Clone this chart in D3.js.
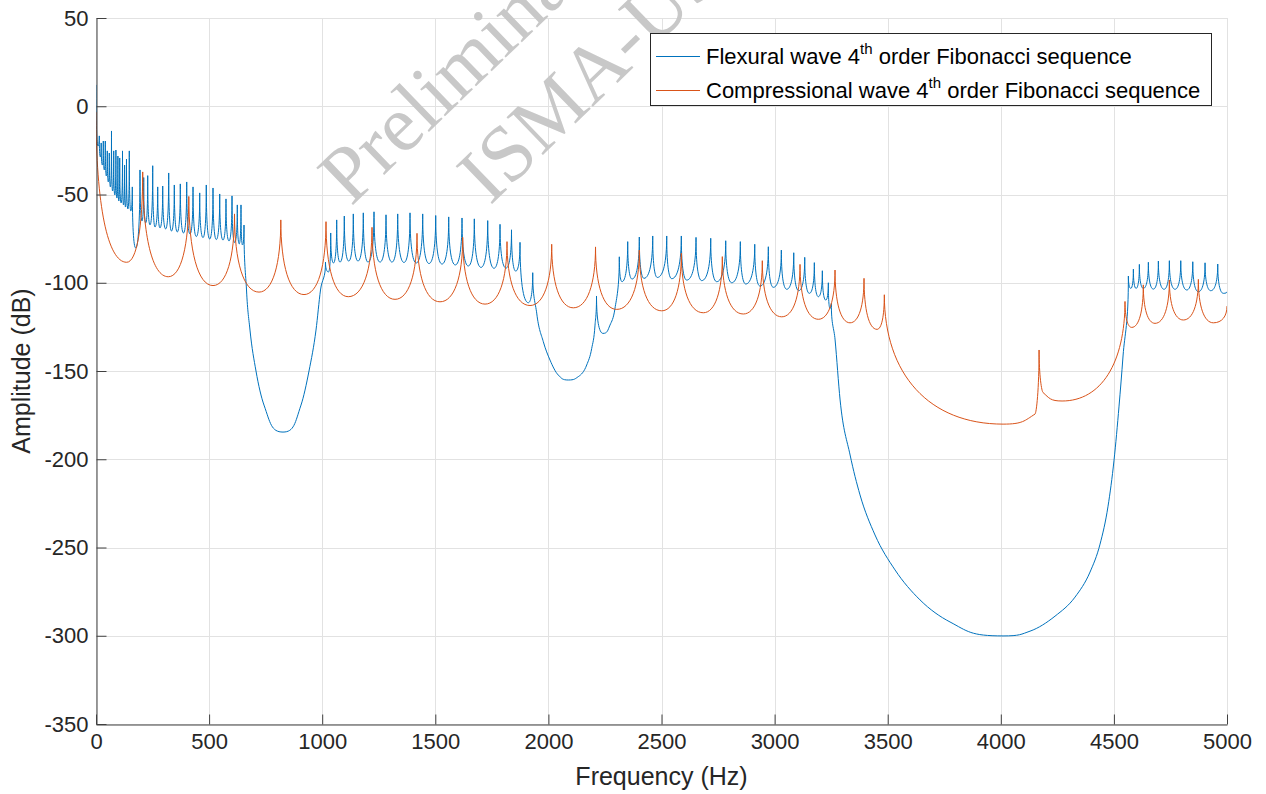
<!DOCTYPE html>
<html><head><meta charset="utf-8">
<script src="https://cdn.jsdelivr.net/npm/d3@7"></script>
<style>body{margin:0;background:#fff;}svg{display:block;}</style>
</head><body>
<svg id="chart" width="1266" height="794"></svg>
<script>
// ---------- data ----------
const xTicks = [0, 500, 1000, 1500, 2000, 2500, 3000, 3500, 4000, 4500, 5000];
const yTicks = [-350, -300, -250, -200, -150, -100, -50, 0, 50];
const xLabel = "Frequency (Hz)";
const yLabel = "Amplitude (dB)";
const legendMain = ["Flexural wave 4", "Compressional wave 4"];
const legendSup = "th";
const legendTail = " order Fibonacci sequence";
const watermarkLines = ["Preliminary", "ISMA-USD"];

// Flexural wave (blue): frequency (Hz) and amplitude (dB) at peaks, troughs and bends
const flexHz = [0,8.8,14.6,19.0,23.0,27.9,32.3,36.7,41.1,45.5,49.9,54.4,58.8,63.7,68.5,73.4,78.3,83.1,88.0,92.4,96.8,100.8,104.8,111.0,117.2,121.6,126.4,130.4,134.8,141.0,147.2,153.9,160.5,175.5,
194.5,203.4,210.9,219.7,228.6,238.7,250.7,260.8,272.8,282.9,294.9,308.1,321.4,333.8,346.2,359.4,372.7,386.8,401.0,415.6,428.9,443.4,458.5,473.0,487.6,502.7,517.3,531.8,546.9,561.5,574.7,588.0,601.3,613.2,624.7,633.1,641.0,647.7,654.3,
665.4,680.8,707.3,742.7,826.7,906.3,941.7,972.6,992.5,
1014.6,1027.9,1037.6,1050.0,1064.1,1078.7,1097.7,1117.2,1137.5,1158.3,1181.7,1202.5,1229.0,1255.6,1282.1,1308.6,1333.8,1361.7,1388.2,1416.1,1444.3,1472.2,1501.8,1529.7,1559.3,1588.5,1618.1,1646.0,1672.5,1702.1,1731.7,1759.6,1786.1,1812.6,1836.9,1855.5,1874.5,1911.2,1930.7,
1948.3,1977.5,2007.1,2043.8,2088.0,2132.2,2169.4,2191.5,2206.1,2212.7,
2241.4,2272.3,2294.4,2313.5,2325.4,2350.6,2369.7,2401.9,2422.6,2461.2,2481.5,2523.1,2545.2,2587.6,2611.5,2652.6,2677.8,2717.6,2744.1,2783.9,2810.4,2848.5,2872.4,2912.2,2935.6,2972.3,2994.4,3029.8,3053.6,3084.6,3106.7,3133.2,3153.6,3175.7,3193.4,3211.1,3226.1,3237.6,3245.1,3250.9,
3267.5,3289.6,3333.8,3377.6,3443.9,3532.4,3642.9,3775.5,4010.0,4129.2,4239.7,4328.1,4394.5,4438.7,4474.1,4500.6,4522.7,4540.4,
4564.0,4574.6,4586.1,4598.0,4612.6,4630.3,4652.4,4674.5,4696.6,4721.8,4745.2,4770.4,4795.6,4822.1,4848.7,4873.4,4903.0,4928.2,4959.1,4983.9,5000];
const flexDb = [12.1,-22.5,-16.8,-28.7,-20.8,-33.3,-19.7,-36.1,-19.7,-39.5,-25.3,-42.9,-26.5,-45.7,-14.0,-48.0,-25.3,-50.3,-24.8,-52.0,-28.2,-53.7,-29.3,-54.8,-25.3,-55.9,-33.3,-57.1,-29.9,-58.2,-25.3,-59.3,-45.7,-80.3,
-36.1,-65.0,-40.4,-66.1,-39.3,-67.2,-33.7,-68.4,-45.7,-68.9,-45.2,-69.5,-37.8,-70.7,-44.6,-71.2,-44.0,-71.8,-42.9,-72.3,-45.7,-73.8,-49.1,-74.4,-44.6,-75.2,-46.3,-75.5,-49.7,-75.8,-52.5,-76.3,-50.8,-77.2,-55.9,-78.0,-55.9,-78.6,-67.3,
-104.1,-126.8,-150.0,-169.3,-184.6,-169.3,-150.0,-126.8,-104.1,
-88.3,-93.9,-71.8,-88.8,-64.4,-88.3,-62.2,-87.7,-61.0,-87.7,-60.4,-88.3,-59.8,-88.3,-61.5,-88.3,-61.0,-88.5,-60.4,-88.8,-61.0,-89.1,-61.9,-89.4,-62.7,-89.9,-63.3,-90.5,-63.8,-91.3,-64.8,-91.8,-66.9,-91.7,-70.0,-93.4,-77.1,-111.3,-94.3,
-117.2,-133.4,-143.8,-152.3,-155.1,-153.2,-146.6,-137.2,-124.0,-107.5,
-128.7,-124.0,-114.5,-85.3,-99.4,-76.7,-97.9,-74.1,-97.5,-73.5,-97.0,-73.5,-97.7,-73.5,-98.5,-74.3,-98.8,-74.8,-99.4,-76.2,-100.0,-76.7,-100.7,-78.2,-101.9,-79.6,-102.6,-81.5,-103.7,-83.0,-104.5,-85.6,-106.0,-88.6,-107.9,-93.2,-109.8,-100.0,-114.5,-111.7,
-132.4,-166.4,-197.6,-220.2,-242.9,-262.7,-279.7,-292.2,-300.1,-297.4,-288.9,-278.1,-263.9,-248.1,-226.6,-200.5,-169.9,-141.5,
-96.2,-103.2,-92.3,-103.2,-89.6,-103.2,-88.4,-103.6,-87.7,-103.7,-87.5,-103.7,-87.5,-104.1,-88.1,-105.1,-88.7,-104.5,-89.4,-106.0,-105.1];

// Compressional wave (orange)
const compHz = [0,135.7,206.5,319.6,410.3,517.3,612.3,720.6,817.0,919.6,1016.8,1115.4,1220.2,1321.9,1419.1,1520.8,1621.2,1719.8,1817.0,1918.7,2014.6,2110.2,2208.3,2302.0,2401.9,2501.0,2587.6,2684.9,2768.9,2861.7,2945.7,3031.5,3112.4,3193.4,3267.1,3333.4,3395.3,3452.8,3485.1,4010.1,4151.3,4169.2,4186.7,4270.9,4549.1,4578.8,4630.0,4681.8,4745.2,4807.0,4873.4,4939.7,5000];
const compDb = [-3.3,-88.4,-37.2,-96.6,-51.1,-101.6,-61.0,-105.3,-64.4,-106.7,-65.4,-107.9,-68.6,-109.4,-72.0,-110.8,-74.3,-112.1,-76.7,-112.9,-78.2,-114.2,-79.7,-115.1,-81.5,-115.9,-83.3,-117.0,-85.2,-117.7,-87.5,-119.3,-89.6,-120.7,-92.8,-122.7,-97.5,-126.4,-106.8,-180.1,-174.4,-138.1,-162.2,-167.0,-110.6,-125.3,-101.2,-123.0,-98.4,-121.1,-98.1,-122.7,-113.2];

const colors = ["#0072BD", "#D95319"];

// ---------- layout ----------
const W = 1266, H = 794;
const m = {left: 96, top: 18, right: 1227, bottom: 724};
const svg = d3.select("#chart");
const x = d3.scaleLinear().domain([0, 5000]).range([m.left, m.right]);
const y = d3.scaleLinear().domain([-350, 50]).range([m.bottom, m.top]);
const FONT = "'Liberation Sans', Arial, Helvetica, sans-serif";
const TXT = "#262626";

// resonance-style curve: sharp cusps at peaks, rounded troughs, monotone between
function CuspCurve(ctx){ this._ctx = ctx; }
CuspCurve.prototype = {
  areaStart(){}, areaEnd(){},
  lineStart(){ this._p = []; },
  point(px, py){ this._p.push([+px, +py]); },
  lineEnd(){
    const p = this._p, n = p.length, c = this._ctx;
    if (!n) return;
    c.moveTo(p[0][0], p[0][1]);
    if (n === 1) return;
    const type = p.map((q, i) => {
      const a = i > 0 ? p[i-1][1] : null, b = i < n-1 ? p[i+1][1] : null;
      const hi = v => v === null || q[1] < v;
      const lo = v => v === null || q[1] > v;
      if (hi(a) && hi(b)) return "peak";
      if (lo(a) && lo(b)) return "trough";
      return "mono";
    });
    const slope = p.map((q, i) => {
      if (type[i] !== "mono") return 0;
      const h0 = q[0]-p[i-1][0], h1 = p[i+1][0]-q[0];
      const s0 = (q[1]-p[i-1][1])/h0, s1 = (p[i+1][1]-q[1])/h1;
      const pp = (s0*h1 + s1*h0)/(h0 + h1);
      return (Math.sign(s0) + Math.sign(s1)) * Math.min(Math.abs(s0), Math.abs(s1), 0.5*Math.abs(pp));
    });
    const K = 0.62;
    for (let i = 0; i < n-1; i++){
      const a = p[i], b = p[i+1], dx = b[0]-a[0], dy = b[1]-a[1];
      let c1, c2;
      if (type[i] === "peak") c1 = [a[0], a[1] + K*dy];
      else if (type[i] === "trough") c1 = [a[0] + K*dx, a[1]];
      else c1 = [a[0] + dx/3, a[1] + slope[i]*dx/3];
      if (type[i+1] === "peak") c2 = [b[0], b[1] - K*dy];
      else if (type[i+1] === "trough") c2 = [b[0] - K*dx, b[1]];
      else c2 = [b[0] - dx/3, b[1] - slope[i+1]*dx/3];
      c.bezierCurveTo(c1[0], c1[1], c2[0], c2[1], b[0], b[1]);
    }
  }
};
const curveCusp = ctx => new CuspCurve(ctx);

svg.append("rect").attr("width", W).attr("height", H).attr("fill", "#fff");

// grid
const grid = svg.append("g").attr("stroke", "#e2e2e2").attr("stroke-width", 1);
grid.selectAll("line.gx").data(xTicks).join("line")
  .attr("x1", d => Math.round(x(d)) + 0.5).attr("x2", d => Math.round(x(d)) + 0.5)
  .attr("y1", m.top).attr("y2", m.bottom);
grid.selectAll("line.gy").data(yTicks).join("line")
  .attr("y1", d => Math.round(y(d)) + 0.5).attr("y2", d => Math.round(y(d)) + 0.5)
  .attr("x1", m.left).attr("x2", m.right);

// clip
svg.append("clipPath").attr("id", "plotclip").append("rect")
  .attr("x", m.left).attr("y", m.top).attr("width", m.right - m.left).attr("height", m.bottom - m.top);

const line = d3.line().x(d => x(d[0])).y(d => y(d[1])).curve(curveCusp);
const flex = flexHz.map((f, i) => [f, flexDb[i]]);
const comp = compHz.map((f, i) => [f, compDb[i]]);
const plot = svg.append("g").attr("clip-path", "url(#plotclip)");
plot.append("path").datum(flex).attr("d", line).attr("fill", "none")
  .attr("stroke", colors[0]).attr("stroke-width", 1);
plot.append("path").datum(comp).attr("d", line).attr("fill", "none")
  .attr("stroke", colors[1]).attr("stroke-width", 1);

// axes (inward ticks, left + bottom only)
const xAxis = d3.axisBottom(x).tickValues(xTicks).tickSizeInner(-10).tickSizeOuter(0).tickPadding(9);
const yAxis = d3.axisLeft(y).tickValues(yTicks).tickSizeInner(-10).tickSizeOuter(0).tickPadding(8);
const gx = svg.append("g").attr("transform", `translate(0,${m.bottom + 0.5})`).call(xAxis);
const gy = svg.append("g").attr("transform", `translate(${m.left + 0.5},0)`).call(yAxis);
[gx, gy].forEach(g => {
  g.select(".domain").attr("stroke", "#404040");
  g.selectAll(".tick line").attr("stroke", "#404040");
  g.selectAll(".tick text").attr("fill", TXT).style("font-family", FONT).style("font-size", "22px")
    .text(d => String(d));
});

// axis labels
svg.append("text").attr("x", (m.left + m.right) / 2).attr("y", 785)
  .attr("text-anchor", "middle").attr("fill", TXT)
  .style("font-family", FONT).style("font-size", "25px").text(xLabel);
svg.append("text").attr("transform", `translate(30,${(m.top + m.bottom) / 2}) rotate(-90)`)
  .attr("text-anchor", "middle").attr("fill", TXT)
  .style("font-family", FONT).style("font-size", "25px").text(yLabel);

// watermark
const wm = svg.append("g").attr("fill", "#c8c8c8")
  .style("font-family", "'Liberation Serif', 'Times New Roman', serif").style("font-size", "80px");
const wmPos = [[351, 207], [490, 206]];
watermarkLines.forEach((t, i) => {
  wm.append("text").attr("transform", `translate(${wmPos[i][0]},${wmPos[i][1]}) rotate(-44)`).text(t);
});

// legend
const lg = svg.append("g");
lg.append("rect").attr("x", 650.5).attr("y", 33.5).attr("width", 561).attr("height", 72)
  .attr("fill", "#fff").attr("stroke", "#262626").attr("stroke-width", 1);
const rows = [56, 90];
legendMain.forEach((t, i) => {
  lg.append("line").attr("x1", 656).attr("x2", 700).attr("y1", rows[i] + 0.5).attr("y2", rows[i] + 0.5)
    .attr("stroke", colors[i]).attr("stroke-width", 1);
  const tx = lg.append("text").attr("x", 706).attr("y", rows[i] + 8).attr("fill", "#000")
    .style("font-family", FONT).style("font-size", "22px");
  tx.append("tspan").text(t);
  tx.append("tspan").attr("dy", -10).style("font-size", "15px").text(legendSup);
  tx.append("tspan").attr("dy", 10).text(legendTail);
});
</script>
</body></html>
